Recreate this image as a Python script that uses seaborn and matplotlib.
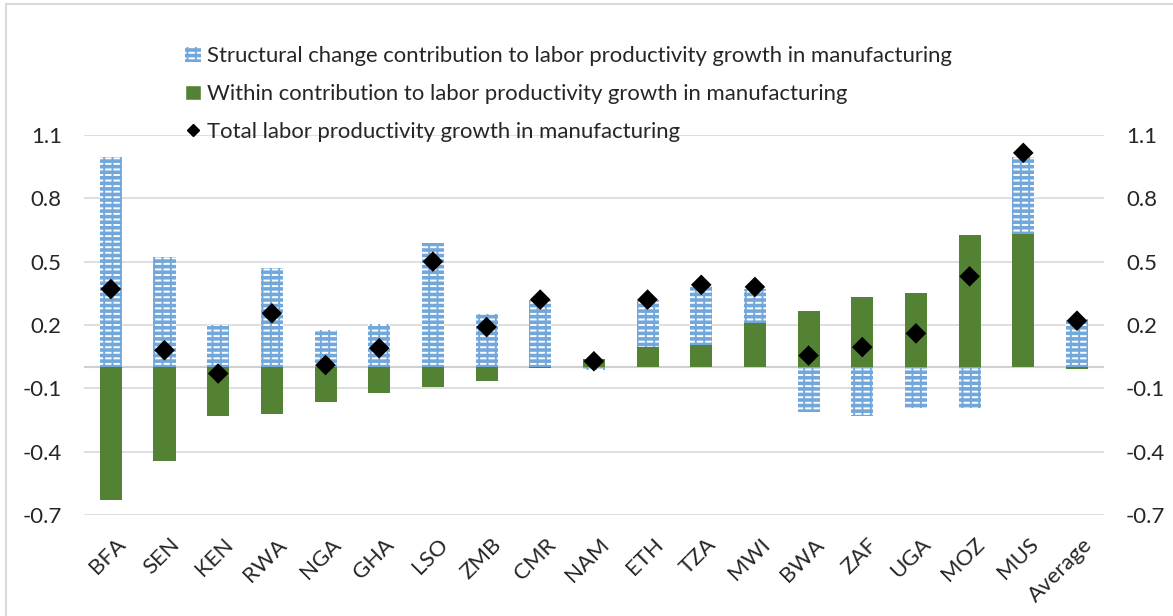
import numpy as np
import pandas as pd
import seaborn as sns
import matplotlib.pyplot as plt
import matplotlib.transforms as mtransforms
from matplotlib.lines import Line2D
from matplotlib.patches import Patch, Rectangle

# data
countries = ["BFA", "SEN", "KEN", "RWA", "NGA", "GHA", "LSO", "ZMB", "CMR", "NAM",
             "ETH", "TZA", "MWI", "BWA", "ZAF", "UGA", "MOZ", "MUS", "Average"]
within = [-0.63, -0.445, -0.23, -0.22, -0.165, -0.12, -0.095, -0.065, -0.005, 0.04,
          0.095, 0.105, 0.21, 0.265, 0.33, 0.35, 0.625, 0.63, -0.01]
structural = [0.995, 0.52, 0.20, 0.47, 0.175, 0.205, 0.59, 0.25, 0.32, -0.015,
              0.225, 0.28, 0.16, -0.21, -0.23, -0.195, -0.195, 0.365, 0.23]
total = [0.37, 0.08, -0.03, 0.255, 0.01, 0.09, 0.50, 0.19, 0.32, 0.028,
         0.32, 0.39, 0.38, 0.055, 0.095, 0.16, 0.43, 1.015, 0.22]

yticks = [-0.7, -0.4, -0.1, 0.2, 0.5, 0.8, 1.1]

df = pd.DataFrame({"country": countries, "within": within,
                   "structural": structural, "total": total})

BLUE = "#72a7dc"
GREEN = "#548235"

sns.set_style("white")
plt.rcParams["font.family"] = ["Lato", "DejaVu Sans"]
plt.rcParams["hatch.linewidth"] = 1.4

fig = plt.figure(figsize=(11.73, 6.16), dpi=100)
ax = fig.add_axes([0.0716, 0.164, 0.8694, 0.617])

# gridlines
for t in yticks:
    ax.axhline(t, color="#d9d9d9", lw=1.2, zorder=0)

# within contribution (always from zero)
sns.barplot(data=df, x="country", y="within", color=GREEN, width=0.41,
            saturation=1, ax=ax, zorder=2, linewidth=0)

# structural contribution stacked on within when same sign
s = np.array(structural)
w = np.array(within)
bottom = np.where(np.sign(s) == np.sign(w), w, 0.0)
xpos = np.arange(len(countries))
ax.bar(xpos, s, bottom=bottom, width=0.41, color=BLUE,
       hatch="---", edgecolor="white", linewidth=0, zorder=2)
ax.bar(xpos, s, bottom=bottom, width=0.41, facecolor="none",
       hatch="||", edgecolor=BLUE, linewidth=0, zorder=2)

ax.axhline(0, color="#d0d0d0", lw=1.5, zorder=1)

# total
sns.scatterplot(data=df, x="country", y="total", marker="D", color="black",
                s=110, ax=ax, zorder=3, edgecolor="none")

ax.set_ylim(-0.7, 1.1)
ax.set_xlim(-0.5, len(countries) - 0.5)
ax.set_yticks(yticks)
ax.set_yticklabels([f"{t:.1f}" for t in yticks], fontsize=16)
ax.tick_params(axis="y", length=0, pad=16, labelright=True, labelleft=True)
ax.set_xticks(xpos)
ax.set_xticklabels(countries, rotation=45, ha="right", rotation_mode="anchor",
                   fontsize=16)
ax.tick_params(axis="x", length=0, pad=14)
shift = mtransforms.ScaledTranslation(5 / 100, 0, fig.dpi_scale_trans)
for lab in ax.get_xticklabels():
    lab.set_transform(lab.get_transform() + shift)
ax.set_xlabel("")
ax.set_ylabel("")
for sp in ax.spines.values():
    sp.set_visible(False)

struct_h = (Patch(facecolor=BLUE, hatch="---", edgecolor="white", linewidth=0),
            Patch(facecolor="none", hatch="||", edgecolor=BLUE, linewidth=0))
handles = [
    struct_h,
    Patch(facecolor=GREEN),
    Line2D([], [], marker="D", color="black", linestyle="none", markersize=6),
]
labels = [
    "Structural change contribution to labor productivity growth in manufacturing",
    "Within contribution to labor productivity growth in manufacturing",
    "Total labor productivity growth in manufacturing",
]
fig.legend(handles, labels, loc="upper left", bbox_to_anchor=(0.141, 0.957),
           frameon=False, fontsize=15.9, handlelength=0.7, handleheight=0.7,
           handletextpad=0.3, labelspacing=0.8)

# chart border
fig.patches.append(Rectangle((6 / 1173, -0.1), 1.2, 1 - 4.5 / 616 + 0.1,
                             transform=fig.transFigure, fill=False,
                             edgecolor="#d9d9d9", lw=1.5))

fig.savefig("out.png", dpi=100)
